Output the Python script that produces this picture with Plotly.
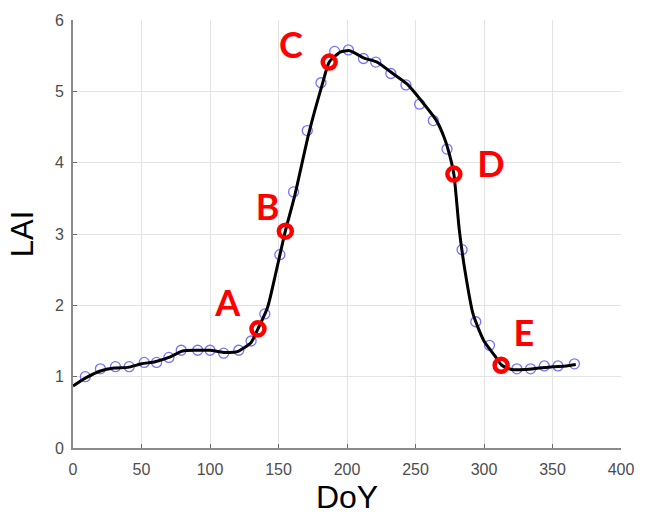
import plotly.graph_objects as go

# observed LAI samples (blue circles)
obs_doy = [9, 20, 31, 41, 52, 61, 70, 79, 91, 100, 110, 121, 130, 140, 151, 161, 171, 181, 191, 201,
           212, 221, 232, 243, 253, 263, 273, 284, 294, 304, 324, 334, 344, 354, 366]
obs_lai = [1.00, 1.11, 1.14, 1.14, 1.20, 1.20, 1.27, 1.37, 1.37, 1.37, 1.33, 1.37, 1.50, 1.88, 2.71, 3.59, 4.45, 5.12, 5.56, 5.58,
           5.46, 5.41, 5.25, 5.09, 4.82, 4.59, 4.19, 2.78, 1.77, 1.44, 1.11, 1.11, 1.15, 1.15, 1.18]

# fitted curve (black line)
fit_doy = [0, 10, 20, 30, 40, 50, 60, 70, 80, 90, 100, 110, 120, 130, 135, 142, 148, 155, 162, 172, 182, 187,
           195, 202, 212, 222, 232, 244, 255, 265, 271, 275, 278, 282, 286, 292, 300, 308, 313, 320, 330, 340,
           350, 360, 367]
fit_lai = [0.87, 0.99, 1.08, 1.12, 1.13, 1.18, 1.21, 1.27, 1.36, 1.37, 1.37, 1.34, 1.35, 1.48, 1.67, 1.97, 2.45, 3.04,
           3.55, 4.40, 5.10, 5.41, 5.55, 5.57, 5.47, 5.41, 5.27, 5.10, 4.85, 4.60, 4.35, 4.10, 3.84, 3.05, 2.50,
           1.88, 1.50, 1.29, 1.16, 1.10, 1.10, 1.12, 1.14, 1.15, 1.17]

# key phenology points
key_doy = [135, 155, 187, 278, 312.5]
key_lai = [1.67, 3.04, 5.41, 3.84, 1.16]
key_labels = ["A", "B", "C", "D", "E"]
label_doy = [113, 142, 159, 305, 329]
label_lai = [1.97, 3.32, 5.60, 3.93, 1.55]

fig = go.Figure()
fig.add_trace(go.Scatter(x=obs_doy, y=obs_lai, mode="markers",
                         marker=dict(symbol="circle-open", size=10, color="rgba(70,70,255,0.75)",
                                     line=dict(width=1.3)),
                         showlegend=False))
fig.add_trace(go.Scatter(x=fit_doy, y=fit_lai, mode="lines", line=dict(color="black", width=3, shape="spline", smoothing=0.6),
                         showlegend=False))
fig.add_trace(go.Scatter(x=key_doy, y=key_lai, mode="markers",
                         marker=dict(symbol="circle-open", size=13, color="#ff0000", line=dict(width=4.5)),
                         showlegend=False))
fig.add_trace(go.Scatter(x=label_doy, y=label_lai, mode="text", text=key_labels,
                         textfont=dict(family="Lato", size=36, color="#ff0000", weight="bold"),
                         showlegend=False))

axis_common = dict(showgrid=True, gridcolor="#e3e3e3", gridwidth=1, zeroline=False,
                   showline=True, linecolor="#8a8a8a", linewidth=2,
                   ticks="inside", ticklen=4, tickcolor="#6a6a6a",
                   tickfont=dict(family="Liberation Sans", size=16, color="#4d4d4d"),
                   mirror=False)
fig.update_xaxes(range=[0, 400], tickvals=[0, 50, 100, 150, 200, 250, 300, 350, 400],
                 ticklabelstandoff=6,
                 title=dict(text="DoY", font=dict(family="Liberation Sans", size=32, color="black"), standoff=8),
                 **axis_common)
fig.update_yaxes(range=[0, 6], tickvals=[0, 1, 2, 3, 4, 5, 6],
                 ticklabelstandoff=4,
                 title=dict(text="LAI", font=dict(family="Liberation Sans", size=31, color="black"), standoff=12),
                 **axis_common)

fig.update_layout(width=646, height=521, margin=dict(l=73, r=15, t=13, b=70),
                  plot_bgcolor="white", paper_bgcolor="white")
fig.write_html("out.html")
